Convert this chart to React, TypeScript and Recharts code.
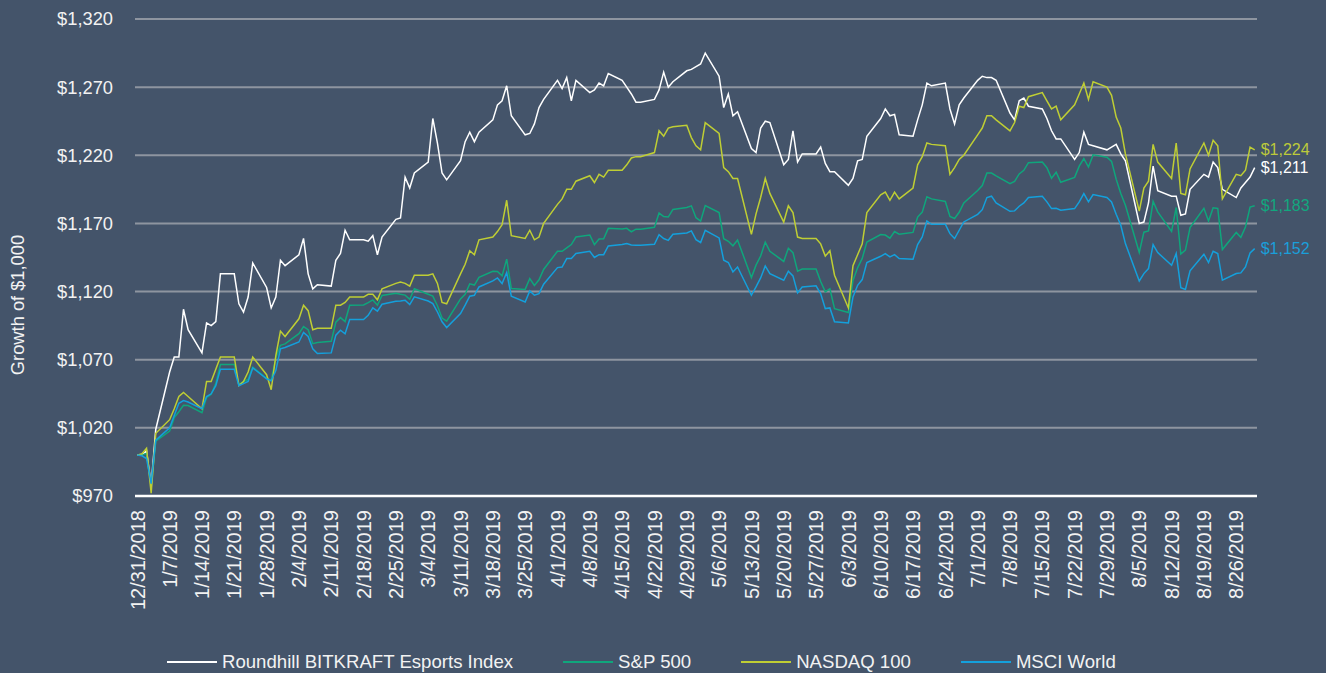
import React from 'react';
import { LineChart, Line, XAxis, YAxis, CartesianGrid } from 'recharts';

// trading days (holidays carry the previous close)
const DATES = [
  '12/31/2018', '1/1/2019', '1/2/2019', '1/3/2019', '1/4/2019',
  '1/7/2019', '1/8/2019', '1/9/2019', '1/10/2019', '1/11/2019',
  '1/14/2019', '1/15/2019', '1/16/2019', '1/17/2019', '1/18/2019',
  '1/21/2019', '1/22/2019', '1/23/2019', '1/24/2019', '1/25/2019',
  '1/28/2019', '1/29/2019', '1/30/2019', '1/31/2019', '2/1/2019',
  '2/4/2019', '2/5/2019', '2/6/2019', '2/7/2019', '2/8/2019',
  '2/11/2019', '2/12/2019', '2/13/2019', '2/14/2019', '2/15/2019',
  '2/18/2019', '2/19/2019', '2/20/2019', '2/21/2019', '2/22/2019',
  '2/25/2019', '2/26/2019', '2/27/2019', '2/28/2019', '3/1/2019',
  '3/4/2019', '3/5/2019', '3/6/2019', '3/7/2019', '3/8/2019',
  '3/11/2019', '3/12/2019', '3/13/2019', '3/14/2019', '3/15/2019',
  '3/18/2019', '3/19/2019', '3/20/2019', '3/21/2019', '3/22/2019',
  '3/25/2019', '3/26/2019', '3/27/2019', '3/28/2019', '3/29/2019',
  '4/1/2019', '4/2/2019', '4/3/2019', '4/4/2019', '4/5/2019',
  '4/8/2019', '4/9/2019', '4/10/2019', '4/11/2019', '4/12/2019',
  '4/15/2019', '4/16/2019', '4/17/2019', '4/18/2019', '4/19/2019',
  '4/22/2019', '4/23/2019', '4/24/2019', '4/25/2019', '4/26/2019',
  '4/29/2019', '4/30/2019', '5/1/2019', '5/2/2019', '5/3/2019',
  '5/6/2019', '5/7/2019', '5/8/2019', '5/9/2019', '5/10/2019',
  '5/13/2019', '5/14/2019', '5/15/2019', '5/16/2019', '5/17/2019',
  '5/20/2019', '5/21/2019', '5/22/2019', '5/23/2019', '5/24/2019',
  '5/27/2019', '5/28/2019', '5/29/2019', '5/30/2019', '5/31/2019',
  '6/3/2019', '6/4/2019', '6/5/2019', '6/6/2019', '6/7/2019',
  '6/10/2019', '6/11/2019', '6/12/2019', '6/13/2019', '6/14/2019',
  '6/17/2019', '6/18/2019', '6/19/2019', '6/20/2019', '6/21/2019',
  '6/24/2019', '6/25/2019', '6/26/2019', '6/27/2019', '6/28/2019',
  '7/1/2019', '7/2/2019', '7/3/2019', '7/4/2019', '7/5/2019',
  '7/8/2019', '7/9/2019', '7/10/2019', '7/11/2019', '7/12/2019',
  '7/15/2019', '7/16/2019', '7/17/2019', '7/18/2019', '7/19/2019',
  '7/22/2019', '7/23/2019', '7/24/2019', '7/25/2019', '7/26/2019',
  '7/29/2019', '7/30/2019', '7/31/2019', '8/1/2019', '8/2/2019',
  '8/5/2019', '8/6/2019', '8/7/2019', '8/8/2019', '8/9/2019',
  '8/12/2019', '8/13/2019', '8/14/2019', '8/15/2019', '8/16/2019',
  '8/19/2019', '8/20/2019', '8/21/2019', '8/22/2019', '8/23/2019',
  '8/26/2019', '8/27/2019', '8/28/2019', '8/29/2019', '8/30/2019',
];

const ROUNDHILL = [
  1000, 1000, 1003, 978, 1019,
  1061, 1072, 1072, 1107, 1092,
  1075, 1097, 1095, 1098, 1133,
  1133, 1111, 1105, 1116, 1141,
  1123, 1108, 1116, 1143, 1139,
  1147, 1159, 1133, 1122, 1125,
  1124, 1143, 1148, 1165, 1158,
  1158, 1157, 1161, 1147, 1160,
  1173, 1174, 1204, 1196, 1207,
  1215, 1247, 1229, 1207, 1202,
  1216, 1230, 1237, 1230, 1237,
  1246, 1257, 1260, 1271, 1249,
  1235, 1236, 1243, 1255, 1261,
  1275, 1269, 1277, 1260, 1275,
  1266, 1268, 1273, 1271, 1280,
  1275, 1270, 1265, 1259, 1259,
  1261, 1268, 1281, 1270, 1274,
  1282, 1283, 1285, 1287, 1295,
  1278, 1255, 1265, 1249, 1252,
  1225, 1222, 1240, 1245, 1244,
  1213, 1217, 1238, 1215, 1221,
  1221, 1226, 1214, 1208, 1208,
  1198, 1203, 1216, 1217, 1234,
  1247, 1254, 1249, 1250, 1235,
  1234, 1246, 1257, 1273, 1271,
  1273, 1254, 1243, 1257, 1262,
  1275, 1278, 1277, 1277, 1275,
  1251, 1246, 1260, 1262, 1256,
  1254, 1247, 1238, 1232, 1232,
  1217, 1222, 1237, 1228, 1227,
  1224, 1226, 1228, 1221, 1216,
  1170, 1171, 1185, 1212, 1194,
  1190, 1190, 1176, 1177, 1195,
  1206, 1204, 1215, 1211, 1195,
  1189, 1196, 1200, 1204, 1211,
];

const SP500 = [
  1000, 1000, 1001.4, 976.7, 1010.3,
  1017.6, 1027.5, 1031.8, 1036.5, 1036.4,
  1031.1, 1042.2, 1044.6, 1052.6, 1066.5,
  1066.5, 1051.7, 1054.0, 1055.6, 1064.5,
  1056.4, 1054.9, 1071.3, 1080.6, 1081.6,
  1089.1, 1094.3, 1092.0, 1081.8, 1082.6,
  1083.5, 1097.5, 1100.9, 1098.0, 1110.0,
  1110.2, 1111.9, 1113.9, 1110.0, 1117.2,
  1118.8, 1118.0, 1117.4, 1114.4, 1122.1,
  1118.0, 1116.7, 1109.6, 1100.6, 1098.3,
  1114.6, 1118.0, 1125.7, 1124.8, 1130.5,
  1134.9, 1134.7, 1131.5, 1143.8, 1122.2,
  1121.6, 1129.6, 1124.5, 1128.6, 1136.2,
  1149.6, 1149.6, 1152.1, 1154.5, 1160.0,
  1161.5, 1154.4, 1158.5, 1158.7, 1166.4,
  1165.9, 1166.4, 1163.9, 1165.8, 1165.8,
  1167.2, 1177.6, 1175.0, 1174.7, 1180.3,
  1181.7, 1182.9, 1174.2, 1171.7, 1183.1,
  1178.0, 1158.8, 1156.9, 1153.6, 1157.9,
  1130.3, 1139.4, 1146.1, 1156.3, 1149.6,
  1142.1, 1151.8, 1148.6, 1135.0, 1136.6,
  1136.6, 1127.4, 1119.8, 1122.1, 1107.4,
  1104.6, 1128.2, 1137.4, 1144.3, 1156.3,
  1161.8, 1161.5, 1159.2, 1164.0, 1162.1,
  1163.4, 1174.7, 1178.3, 1189.5, 1188.0,
  1186.1, 1175.1, 1173.6, 1178.2, 1185.0,
  1194.2, 1197.8, 1207.0, 1207.0, 1204.9,
  1199.2, 1200.8, 1206.3, 1209.0, 1214.6,
  1215.0, 1210.9, 1203.2, 1207.6, 1200.2,
  1203.8, 1212.0, 1217.6, 1211.4, 1220.3,
  1218.6, 1215.5, 1202.5, 1191.9, 1183.3,
  1148.7, 1163.6, 1164.5, 1186.1, 1178.5,
  1164.2, 1181.7, 1147.6, 1150.4, 1166.9,
  1181.1, 1171.8, 1181.5, 1181.0, 1150.8,
  1163.4, 1159.8, 1167.4, 1182.0, 1182.9,
];

const NASDAQ100 = [
  1000, 1001, 1005, 972, 1016,
  1026, 1034, 1043, 1046, 1043,
  1034, 1054, 1054, 1063, 1072,
  1072, 1051, 1054, 1061, 1072,
  1059, 1048, 1073, 1091, 1087,
  1100, 1110, 1106, 1092, 1093,
  1093, 1110, 1110, 1112, 1116,
  1116, 1118, 1118, 1114, 1122,
  1126, 1127, 1126, 1124, 1132,
  1132, 1133, 1126, 1112, 1111,
  1133, 1140, 1150, 1147, 1158,
  1160, 1164, 1169, 1187, 1161,
  1159, 1165, 1158, 1160, 1170,
  1184, 1188, 1195, 1195, 1201,
  1205, 1200, 1206, 1204, 1209,
  1209, 1213, 1218, 1219, 1219,
  1222, 1238, 1234, 1240, 1241,
  1242, 1233, 1227, 1224, 1244,
  1236, 1211, 1208, 1203, 1203,
  1162, 1177, 1189, 1203, 1192,
  1171, 1183, 1178, 1160, 1159,
  1159, 1155, 1146, 1150, 1132,
  1108, 1139, 1147, 1155, 1178,
  1191, 1193, 1187, 1193, 1188,
  1196, 1213, 1219, 1229, 1228,
  1227, 1206, 1211, 1217, 1220,
  1235, 1240, 1249, 1249, 1246,
  1238, 1244, 1256, 1255, 1263,
  1266, 1260, 1254, 1256, 1246,
  1257, 1265, 1273, 1261, 1274,
  1270, 1264, 1248, 1240, 1221,
  1179, 1196, 1201, 1228, 1215,
  1203, 1229, 1192, 1191, 1210,
  1229, 1220, 1231, 1227, 1188,
  1206, 1205, 1209, 1226, 1224,
];

const MSCI_WORLD = [
  1000, 999.5, 997.5, 979, 1011,
  1020, 1029, 1038, 1040, 1039,
  1034, 1043, 1045, 1051, 1063,
  1063, 1051, 1052.5, 1054, 1064,
  1056, 1054.5, 1062, 1078, 1079,
  1083, 1090, 1087, 1078, 1074.5,
  1075, 1088, 1091.6, 1089, 1099.5,
  1099.5, 1102.6, 1108, 1105.6, 1110.7,
  1112.9, 1113.1, 1113.6, 1110.5, 1116.1,
  1113.1, 1111.2, 1105, 1097.8, 1093.6,
  1103.9, 1110, 1116.6, 1117.3, 1123.4,
  1127.8, 1130, 1125.9, 1134, 1116.6,
  1112.4, 1120.5, 1117.3, 1118.5, 1125.4,
  1137.6, 1138, 1144.2, 1144.2, 1147.9,
  1149.6, 1145, 1147.1, 1147.1, 1153.5,
  1154.5, 1155.2, 1154.2, 1154, 1154,
  1154.7, 1161.8, 1158.9, 1157.6, 1162,
  1163, 1164.5, 1158.1, 1156, 1165,
  1159.4, 1143, 1141.3, 1134.4, 1138,
  1117.3, 1123.4, 1130, 1138.8, 1133.2,
  1128.3, 1134.9, 1131.5, 1119, 1123.4,
  1124.2, 1118.5, 1107.5, 1108, 1097.8,
  1097, 1116.1, 1124.6, 1128.8, 1141.3,
  1145.9, 1147.9, 1145.4, 1147.1, 1144.2,
  1143.7, 1154.5, 1160.1, 1171.8, 1169.4,
  1169.4, 1162.5, 1158.9, 1165, 1171.1,
  1176.7, 1180.1, 1189, 1190, 1185,
  1178.9, 1179.2, 1182.6, 1185, 1189,
  1190, 1185.8, 1180.9, 1181.1, 1179.7,
  1180.9, 1185.8, 1191.9, 1185.8, 1191.2,
  1189, 1185.8, 1176.7, 1168.7, 1155.2,
  1127.8, 1133.2, 1136.9, 1154.5, 1148.6,
  1139.3, 1147.9, 1122.9, 1121.5, 1135.2,
  1147.4, 1141.3, 1149.6, 1147.9, 1128.3,
  1133.2, 1133.7, 1138.1, 1148.4, 1151.5,
];

const X_TICK_LABELS = [
  '12/31/2018', '1/7/2019', '1/14/2019', '1/21/2019', '1/28/2019',
  '2/4/2019', '2/11/2019', '2/18/2019', '2/25/2019',
  '3/4/2019', '3/11/2019', '3/18/2019', '3/25/2019',
  '4/1/2019', '4/8/2019', '4/15/2019', '4/22/2019', '4/29/2019',
  '5/6/2019', '5/13/2019', '5/20/2019', '5/27/2019',
  '6/3/2019', '6/10/2019', '6/17/2019', '6/24/2019',
  '7/1/2019', '7/8/2019', '7/15/2019', '7/22/2019', '7/29/2019',
  '8/5/2019', '8/12/2019', '8/19/2019', '8/26/2019',
];

const Y_TICKS = [970, 1020, 1070, 1120, 1170, 1220, 1270, 1320];

const BG = '#44546A';
const TEXT = '#F2F2F2';
const FONT = '"Liberation Sans", Arial, sans-serif';

const SERIES = [
  { key: 'roundhill', name: 'Roundhill BITKRAFT Esports Index', values: ROUNDHILL, color: '#FFFFFF', labelColor: '#FFFFFF' },
  { key: 'sp500', name: 'S&P 500', values: SP500, color: '#0FA67C', labelColor: '#12A77E' },
  { key: 'nasdaq', name: 'NASDAQ 100', values: NASDAQ100, color: '#BFCE34', labelColor: '#BDCA3A' },
  { key: 'msci', name: 'MSCI World', values: MSCI_WORLD, color: '#14A0DC', labelColor: '#1A9FDA' },
];

// days since 12/31/2018, so weekends keep their width like Excel's date axis
const dayIndex = (s: string) => {
  const [m, d, y] = s.split('/').map(Number);
  return Math.round((Date.UTC(y, m - 1, d) - Date.UTC(2018, 11, 31)) / 86400000);
};

const data = DATES.map((date, i) => {
  const row: Record<string, number | string> = { day: dayIndex(date), date };
  SERIES.forEach((s) => {
    row[s.key] = s.values[i];
  });
  return row;
});

const xTicks = X_TICK_LABELS.map(dayIndex);
const lastIndex = DATES.length - 1;

const DateTick = (props: any) => {
  const { x, y, payload } = props;
  const label = X_TICK_LABELS[xTicks.indexOf(payload.value)];
  return (
    <g transform={`translate(${x},${y})`}>
      <text
        transform="rotate(-90)"
        x={-14}
        y={0}
        dy="0.36em"
        textAnchor="end"
        fill={TEXT}
        fontSize={20}
        fontFamily={FONT}
      >
        {label}
      </text>
    </g>
  );
};

const endLabel = (color: string) => (props: any) => {
  const { x, y, value, index } = props;
  if (index !== lastIndex) return <g />;
  return (
    <text x={x + 6} y={y} dy="0.35em" fill={color} fontSize={16} fontFamily={FONT}>
      {'$' + Math.round(value).toLocaleString('en-US')}
    </text>
  );
};

export default function App() {
  return (
    <div
      style={{
        position: 'fixed',
        left: 0,
        top: 0,
        width: 1326,
        height: 673,
        background: BG,
        fontFamily: FONT,
      }}
    >
      <LineChart
        width={1326}
        height={673}
        data={data}
        margin={{ top: 19, right: 69, bottom: 0, left: 0 }}
      >
        <CartesianGrid vertical={false} stroke="#8E95A0" strokeWidth={2} />
        <XAxis
          dataKey="day"
          type="number"
          domain={[-0.5, 242.5]}
          ticks={xTicks}
          interval={0}
          height={177}
          tickSize={0}
          tickMargin={0}
          tickLine={false}
          axisLine={{ stroke: '#FFFFFF', strokeWidth: 2.5 }}
          tick={<DateTick />}
        />
        <YAxis
          type="number"
          domain={[970, 1320]}
          ticks={Y_TICKS}
          interval={0}
          width={135}
          tickSize={0}
          tickMargin={22}
          axisLine={false}
          tickLine={false}
          tick={{ fill: TEXT, fontSize: 18.3, fontFamily: FONT }}
          tickFormatter={(v: number) => '$' + v.toLocaleString('en-US')}
        />
        {SERIES.map((s) => (
          <Line
            key={s.key}
            type="linear"
            dataKey={s.key}
            name={s.name}
            stroke={s.color}
            strokeWidth={1.5}
            dot={false}
            activeDot={false}
            isAnimationActive={false}
            label={endLabel(s.labelColor)}
          />
        ))}
      </LineChart>

      <svg
        width={60}
        height={673}
        style={{ position: 'absolute', left: 0, top: 0, pointerEvents: 'none' }}
      >
        <text
          x={18}
          y={305}
          transform="rotate(-90 18 305)"
          textAnchor="middle"
          dy="0.35em"
          fill={TEXT}
          fontSize={18.3}
          fontFamily={FONT}
        >
          Growth of $1,000
        </text>
      </svg>

      <div
        style={{
          position: 'absolute',
          left: 167,
          top: 651,
          display: 'flex',
          alignItems: 'center',
          gap: 50,
          color: TEXT,
          fontSize: 18.6,
          lineHeight: '22px',
          whiteSpace: 'nowrap',
        }}
      >
        {SERIES.map((s) => (
          <div key={s.key} style={{ display: 'flex', alignItems: 'center' }}>
            <span
              style={{
                display: 'inline-block',
                width: 50,
                height: 2,
                background: s.color,
                marginRight: 5,
              }}
            />
            <span>{s.name}</span>
          </div>
        ))}
      </div>
    </div>
  );
}
